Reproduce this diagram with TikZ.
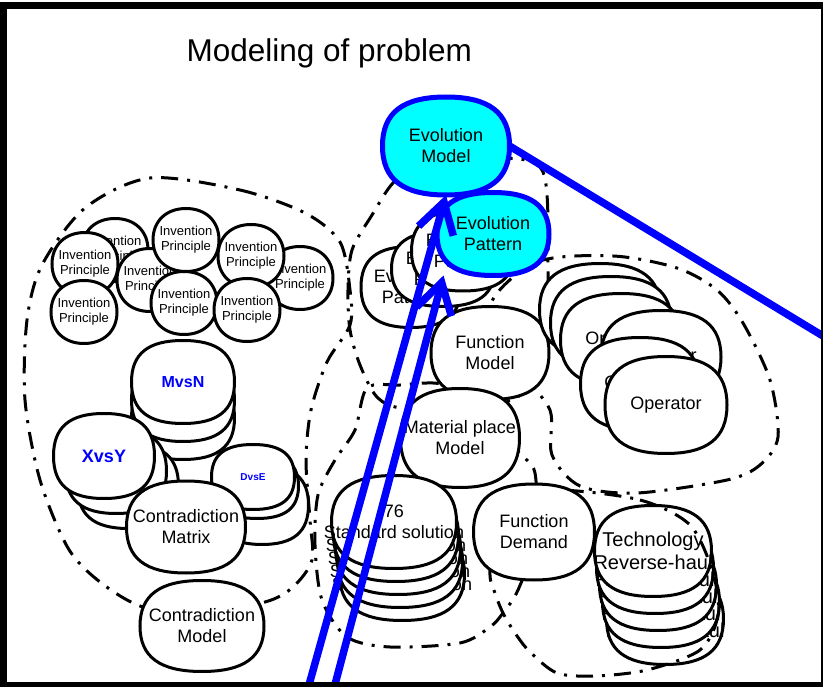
\documentclass[tikz,border=0pt]{standalone}
\usepackage{fontspec}
\setmainfont{Liberation Sans}
\usetikzlibrary{arrows.meta}
\definecolor{evocyan}{RGB}{0,255,255}
\definecolor{evoblue}{RGB}{0,0,255}

% soft box: a rectangle node drawn as a squircle
\newdimen\sbL \newdimen\sbR \newdimen\sbT \newdimen\sbB
\newdimen\sbCX \newdimen\sbCY \newdimen\sbKX \newdimen\sbKY
\newdimen\sbXp \newdimen\sbXm \newdimen\sbYp \newdimen\sbYm
\tikzset{blob k/.store in=\blobk, blob k=0.68}
\makeatletter
\pgfdeclareshape{softbox}{
  \inheritsavedanchors[from=rectangle]
  \inheritanchorborder[from=rectangle]
  \inheritanchor[from=rectangle]{center}
  \inheritanchor[from=rectangle]{north}
  \inheritanchor[from=rectangle]{south}
  \inheritanchor[from=rectangle]{east}
  \inheritanchor[from=rectangle]{west}
  \inheritanchor[from=rectangle]{north east}
  \inheritanchor[from=rectangle]{north west}
  \inheritanchor[from=rectangle]{south east}
  \inheritanchor[from=rectangle]{south west}
  \inheritanchor[from=rectangle]{text}
  \inheritanchor[from=rectangle]{base}
  \inheritanchor[from=rectangle]{mid}
  \backgroundpath{
    \southwest \sbL=\pgf@x \sbB=\pgf@y
    \northeast \sbR=\pgf@x \sbT=\pgf@y
    \sbCX=.5\sbL \advance\sbCX by .5\sbR
    \sbCY=.5\sbB \advance\sbCY by .5\sbT
    \sbKX=\sbR \advance\sbKX by -\sbCX \sbKX=\blobk\sbKX
    \sbKY=\sbT \advance\sbKY by -\sbCY \sbKY=\blobk\sbKY
    \sbXp=\sbCX \advance\sbXp by \sbKX
    \sbXm=\sbCX \advance\sbXm by -\sbKX
    \sbYp=\sbCY \advance\sbYp by \sbKY
    \sbYm=\sbCY \advance\sbYm by -\sbKY
    \pgfpathmoveto{\pgfqpoint{\sbCX}{\sbT}}
    \pgfpathcurveto{\pgfqpoint{\sbXp}{\sbT}}{\pgfqpoint{\sbR}{\sbYp}}{\pgfqpoint{\sbR}{\sbCY}}
    \pgfpathcurveto{\pgfqpoint{\sbR}{\sbYm}}{\pgfqpoint{\sbXp}{\sbB}}{\pgfqpoint{\sbCX}{\sbB}}
    \pgfpathcurveto{\pgfqpoint{\sbXm}{\sbB}}{\pgfqpoint{\sbL}{\sbYm}}{\pgfqpoint{\sbL}{\sbCY}}
    \pgfpathcurveto{\pgfqpoint{\sbL}{\sbYp}}{\pgfqpoint{\sbXm}{\sbT}}{\pgfqpoint{\sbCX}{\sbT}}
    \pgfpathclose
  }
}
\makeatother

\begin{document}
\begin{tikzpicture}[x=1pt,y=-1pt]
  \tikzstyle{blob}=[softbox,draw,line width=3pt,fill=white,inner sep=0pt,inner xsep=-20pt,align=center,minimum width=118pt,minimum height=90pt,font=\fontsize{18}{21}\selectfont]
  \tikzstyle{evo}=[blob,fill=evocyan,draw=evoblue,line width=5pt]
  \tikzstyle{ip}=[blob,blob k=0.6,minimum width=63pt,minimum height=60pt,font=\fontsize{13}{15}\selectfont]
  \tikzstyle{vs}=[text=evoblue,font=\bfseries\fontsize{16}{19}\selectfont]
  \tikzstyle{loop}=[line width=3pt,dash pattern=on 17pt off 9pt on 3pt off 9pt]
  \tikzstyle{bluelink}=[draw=evoblue,line width=7.5pt]
  \useasboundingbox (0,0) rectangle (823,687);

  % dash-dot groups
  \draw[loop] plot[smooth cycle] coordinates {(150,178) (240,190) (305,213) (340,242) (350,290) (350,325) (327,362) (311,410) (306,460) (310,520) (312,560) (293,587) (265,602) (200,612) (143,607) (100,582) (68,548) (40,480) (25,400) (27,320) (42,265) (85,208)};
  \draw[loop] plot[smooth cycle] coordinates {(393,183) (420,165) (500,158) (543,172) (548,263) (545,320) (520,395) (470,402) (403,408) (377,397) (360,365) (350,330) (348,290) (352,250) (372,215)};
  \draw[loop] plot[smooth cycle] coordinates {(433,383) (400,385) (367,388) (355,430) (335,460) (318,495) (315,545) (322,600) (347,637) (390,647) (460,643) (490,627) (503,613) (518,590) (535,540) (535,473) (517,450) (490,402) (460,388)};
  \draw[loop] plot[smooth cycle] coordinates {(490,307) (537,262) (613,256) (677,268) (717,290) (743,323) (770,380) (778,437) (760,465) (727,480) (637,493) (580,486) (552,455) (550,410) (520,370)};

  \node[anchor=base west,font=\fontsize{31.5}{36}\selectfont] (title) at (183,62) {Modeling of problem};

  % invention principles
  \node[ip] (ip8) at (300,278) {Invention\\Principle};
  \node[ip] (ip1) at (115,250) {Invention\\Principle};
  \node[ip] (ip4) at (150,280) {Invention\\Principle};
  \node[ip] (ip2) at (85,264) {Invention\\Principle};
  \node[ip] (ip3) at (84,312) {Invention\\Principle};
  \node[ip] (ip5) at (186,240) {Invention\\Principle};
  \node[ip] (ip6) at (184,303) {Invention\\Principle};
  \node[ip] (ip7) at (251,256) {Invention\\Principle};
  \node[ip] (ip9) at (247,310) {Invention\\Principle};

  % contradiction matrix
  \node[blob,minimum width=100pt,minimum height=80pt] (mn3) at (183,418) {};
  \node[blob,minimum width=100pt,minimum height=80pt] (mn2) at (183,400) {};
  \node[blob,minimum width=100pt,minimum height=80pt,vs] (mn1) at (183,382) {MvsN};
  \node[blob,minimum width=98pt,minimum height=82pt] (xy3) at (128,486) {};
  \node[blob,minimum width=98pt,minimum height=82pt] (xy2) at (116,471) {};
  \node[blob,minimum width=98pt,minimum height=82pt,vs,font=\bfseries\fontsize{18}{21}\selectfont] (xy1) at (104,456) {XvsY};
  \node[blob,minimum width=90pt,minimum height=76pt] (de3) at (262,505) {};
  \node[blob,minimum width=80pt,minimum height=62pt] (de2) at (257,486) {};
  \node[blob,minimum width=80pt,minimum height=62pt,vs,font=\bfseries\fontsize{10}{12}\selectfont] (de1) at (253,477) {DvsE};
  \node[blob,minimum width=116pt,minimum height=89pt] (matrix) at (186,527) {Contradiction\\Matrix};
  \node[blob,minimum width=121pt,minimum height=88pt] (cmodel) at (202,626) {Contradiction\\Model};

  % evolution
  \node[blob,minimum width=97pt,minimum height=78pt] (ep1) at (411,287) {Evolution\\Pattern};
  \node[blob,minimum width=100pt,minimum height=72pt] (ep2) at (443,269) {Evolution\\Pattern};
  \node[blob,minimum width=100pt,minimum height=77pt] (ep3) at (463,251) {Evolution\\Pattern};
  \node[evo,minimum width=107pt,minimum height=78pt] (evopattern) at (493,234) {Evolution\\Pattern};
  \node[evo,minimum width=122pt,minimum height=93pt] (evomodel) at (446,146) {Evolution\\Model};

  % function
  \node[blob,minimum width=115pt,minimum height=90pt] (fmodel) at (490,353) {Function\\Model};
  \node[blob,minimum width=116pt,minimum height=96pt] (material) at (460,438) {Material place\\Model};

  % operators
  \node[blob] (op1) at (600,310) {Operator};
  \node[blob] (op2) at (611,323) {Operator};
  \node[blob] (op3) at (621,340) {Operator};
  \node[blob,minimum width=117pt] (op4) at (661,357) {Operator};
  \node[blob,minimum width=116pt] (op5) at (640,384) {Operator};
  \node[blob,minimum width=119pt,minimum height=94pt] (op6) at (666,405) {Operator};

  % standard solutions
  \node[blob,minimum width=122pt] (ss5) at (402,574) {76\\Standard solution};
  \node[blob,minimum width=122pt] (ss4) at (400,561) {76\\Standard solution};
  \node[blob,minimum width=122pt] (ss3) at (398,548) {76\\Standard solution};
  \node[blob,minimum width=122pt] (ss2) at (396,535) {76\\Standard solution};
  \node[blob,minimum width=122pt] (ss1) at (394,522) {76\\Standard solution};

  % reverse-haul, its group line, then function demand
  \node[blob,minimum width=114pt,minimum height=88pt,font=\fontsize{20}{23}\selectfont] (rh5) at (665,619) {Technology\\Reverse-haul};
  \node[blob,minimum width=114pt,minimum height=88pt,font=\fontsize{20}{23}\selectfont] (rh4) at (661,602) {Technology\\Reverse-haul};
  \node[blob,minimum width=114pt,minimum height=88pt,font=\fontsize{20}{23}\selectfont] (rh3) at (658,585) {Technology\\Reverse-haul};
  \node[blob,minimum width=114pt,minimum height=88pt,font=\fontsize{20}{23}\selectfont] (rh2) at (655,568) {Technology\\Reverse-haul};
  \node[blob,minimum width=114pt,minimum height=88pt,font=\fontsize{20}{23}\selectfont] (rh1) at (653,551) {Technology\\Reverse-haul};
  \draw[loop] plot[smooth cycle] coordinates {(557,490) (640,500) (690,525) (713,573) (718,615) (700,650) (647,670) (595,676) (557,673) (530,652) (515,633) (503,613) (495,593) (490,570) (500,500)};
  \node[blob,minimum width=118pt,minimum height=93pt] (fdemand) at (534,532) {Function\\Demand};

  % blue links
  \coordinate (edge) at (823,336);
  \coordinate (foot1) at (307,692);
  \coordinate (foot2) at (333,692);
  \draw[bluelink] (evomodel.east) -- (edge);
  \draw[bluelink,-{Straight Barb[length=30pt,width=36pt]}] (foot1) -- (evomodel.south);
  \draw[bluelink,-{Straight Barb[length=30pt,width=36pt]}] (foot2) -- (evopattern.-140);

  % frame
  \draw[line width=7pt] (3.5,687) -- (3.5,5.5) -- (823,5.5);
  \draw[line width=5pt] (0,684.5) -- (823,684.5);
  \draw[line width=2pt] (822,5.5) -- (822,687);
\end{tikzpicture}
\end{document}
